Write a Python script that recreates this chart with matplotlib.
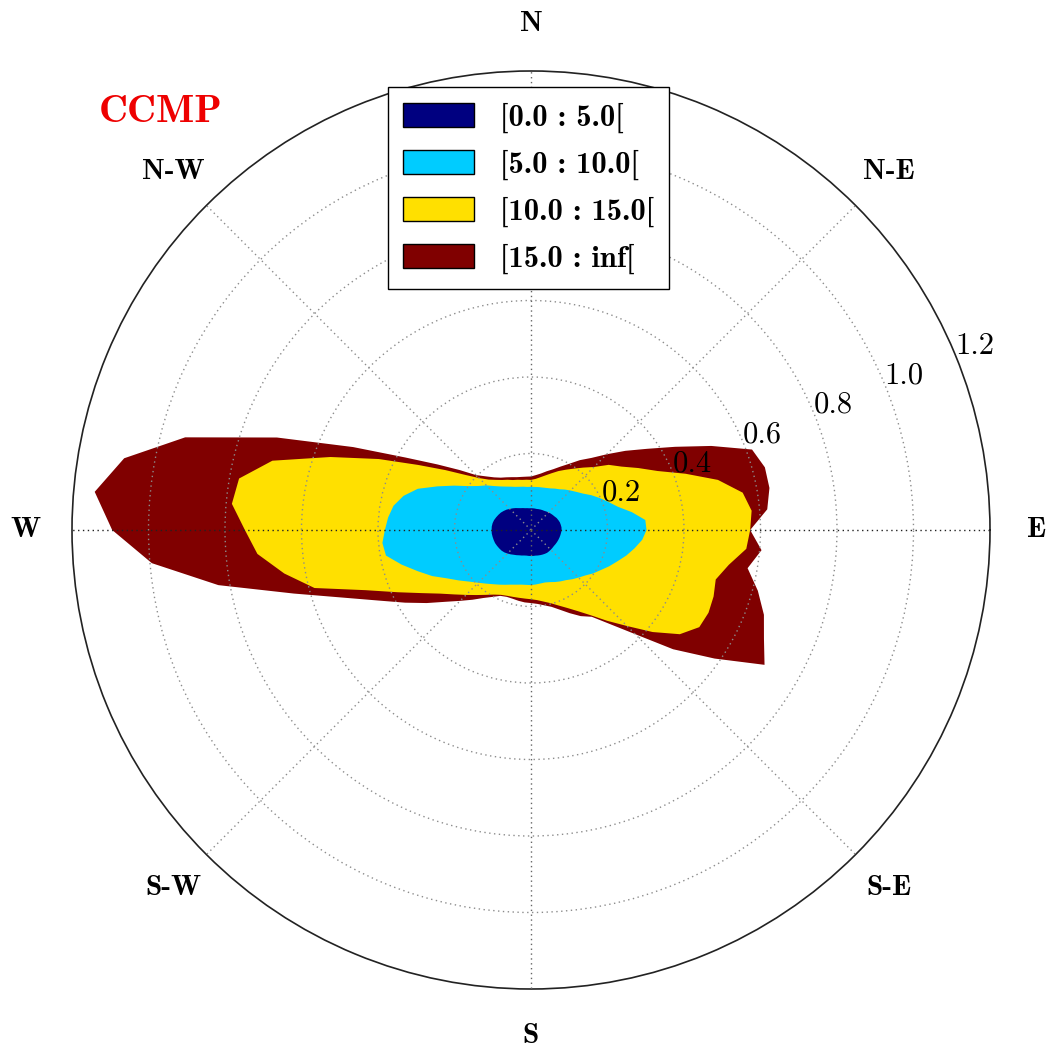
import numpy as np
import matplotlib
matplotlib.use("Agg")
import matplotlib.pyplot as plt
from matplotlib.patches import Patch

# ---- data (cumulative outline radius per direction, math convention: 0 = East, CCW) ----
directions_deg = np.arange(0, 360, 5)

r_0_5 = [0.080, 0.080, 0.079, 0.078, 0.076, 0.074, 0.071, 0.069, 0.067, 0.065, 0.063, 0.061, 0.060, 0.059, 0.058, 0.057, 0.057, 0.057,
         0.057, 0.057, 0.058, 0.059, 0.061, 0.063, 0.066, 0.070, 0.074, 0.078, 0.083, 0.087, 0.091, 0.094, 0.097, 0.100, 0.102, 0.103,
         0.103, 0.103, 0.102, 0.101, 0.100, 0.098, 0.096, 0.094, 0.091, 0.087, 0.083, 0.079, 0.076, 0.073, 0.071, 0.069, 0.068, 0.068,
         0.068, 0.068, 0.068, 0.069, 0.070, 0.071, 0.072, 0.073, 0.073, 0.073, 0.073, 0.073, 0.074, 0.075, 0.076, 0.077, 0.078, 0.079]

r_5_10 = [0.302, 0.300, 0.268, 0.235, 0.215, 0.198, 0.182, 0.166, 0.155, 0.146, 0.138, 0.130, 0.125, 0.120, 0.117, 0.115, 0.114, 0.113,
          0.113, 0.113, 0.115, 0.117, 0.120, 0.125, 0.131, 0.139, 0.150, 0.165, 0.179, 0.200, 0.232, 0.270, 0.315, 0.345, 0.365, 0.375,
          0.382, 0.390, 0.385, 0.350, 0.315, 0.285, 0.253, 0.230, 0.210, 0.195, 0.183, 0.173, 0.165, 0.158, 0.152, 0.148, 0.145, 0.144,
          0.144, 0.143, 0.142, 0.142, 0.145, 0.150, 0.155, 0.160, 0.168, 0.176, 0.185, 0.198, 0.210, 0.225, 0.240, 0.258, 0.275, 0.292]

r_10_15 = [0.573, 0.579, 0.562, 0.506, 0.430, 0.365, 0.324, 0.289, 0.265, 0.233, 0.213, 0.196, 0.182, 0.170, 0.158, 0.148, 0.140, 0.134,
           0.131, 0.132, 0.133, 0.136, 0.139, 0.145, 0.151, 0.160, 0.172, 0.192, 0.224, 0.273, 0.340, 0.439, 0.558, 0.700, 0.775, 0.785,
           0.748, 0.718, 0.655, 0.586, 0.460, 0.385, 0.330, 0.290, 0.262, 0.240, 0.222, 0.207, 0.195, 0.187, 0.183, 0.181, 0.180, 0.180,
           0.181, 0.184, 0.190, 0.198, 0.210, 0.225, 0.245, 0.272, 0.310, 0.355, 0.415, 0.475, 0.508, 0.512, 0.508, 0.500, 0.525, 0.565]

r_15_inf = [0.573, 0.620, 0.633, 0.633, 0.615, 0.520, 0.435, 0.370, 0.322, 0.280, 0.246, 0.223, 0.200, 0.183, 0.169, 0.159, 0.150, 0.144,
            0.140, 0.140, 0.141, 0.143, 0.147, 0.152, 0.158, 0.168, 0.183, 0.203, 0.244, 0.299, 0.379, 0.513, 0.707, 0.936, 1.080, 1.145,
            1.095, 0.995, 0.830, 0.642, 0.518, 0.437, 0.380, 0.333, 0.292, 0.262, 0.238, 0.217, 0.202, 0.190, 0.186, 0.186, 0.188, 0.190,
            0.191, 0.194, 0.200, 0.208, 0.222, 0.240, 0.260, 0.277, 0.321, 0.385, 0.485, 0.586, 0.705, 0.672, 0.648, 0.614, 0.575, 0.605]

class_labels = ["[0.0 : 5.0[", "[5.0 : 10.0[", "[10.0 : 15.0[", "[15.0 : inf["]
class_colors = ["#000080", "#00CCFF", "#FFE000", "#800000"]

ring_ticks = [0.2, 0.4, 0.6, 0.8, 1.0]
ring_labels = ["0.2", "0.4", "0.6", "0.8", "1.0", "1.2"]
ring_label_values = [0.2, 0.4, 0.6, 0.8, 1.0, 1.2]
r_max = 1.2

compass_labels = ["E", "N-E", "N", "N-W", "W", "S-W", "S", "S-E"]
compass_angles = [0, 45, 90, 135, 180, 225, 270, 315]

title_text = "CCMP"

# ---- fonts ----
BOLD = ["cmb10", "DejaVu Serif"]
REG = ["cmr10", "DejaVu Serif"]

fig = plt.figure(figsize=(10.49, 10.50), dpi=100)
ax = fig.add_axes([72 / 1049, (1050 - 530 - 459) / 1050, 918 / 1049, 918 / 1050], projection="polar")

theta = np.deg2rad(np.append(directions_deg, directions_deg[0]))
layers = [r_0_5, r_5_10, r_10_15, r_15_inf]
for i in range(3, -1, -1):
    r = np.asarray(layers[i])
    r = np.append(r, r[0])
    ax.fill(theta, r, color=class_colors[i], lw=0, zorder=1 + (3 - i) * 0.1)

ax.set_ylim(0, r_max)
ax.set_yticks(ring_ticks)
ax.set_yticklabels([])
ax.set_thetagrids([45, 135, 225, 315], labels=[""] * 4)
ax.set_axisbelow(False)
ax.grid(True, color="#8c8c8c", linestyle=(0, (1, 2.5)), linewidth=1.0, zorder=3)
ax.xaxis.grid(True, color="#8c8c8c", linestyle=(0, (1, 2.5)), linewidth=1.0)
for a in [0, 180]:
    ax.plot([np.deg2rad(a), np.deg2rad(a)], [0, r_max], color="#222222",
            linestyle=(0, (1, 2.5)), linewidth=1.0, zorder=3)
for a in [90, 270]:
    ax.plot([np.deg2rad(a), np.deg2rad(a)], [0, r_max], color="#666666",
            linestyle=(0, (1, 2.5)), linewidth=1.0, zorder=3)
ax.spines["polar"].set_linewidth(1.2)
ax.spines["polar"].set_color("#222222")
ax.tick_params(axis="both", length=0)

# ring labels (left/baseline at the ring point along 22.5 deg)
for v, s in zip(ring_label_values, ring_labels):
    ax.text(np.deg2rad(22.5), v, s, ha="left", va="baseline", fontsize=22,
            family=REG, color="black", zorder=5)

# compass labels
for a, s in zip(compass_angles, compass_labels):
    ax.text(np.deg2rad(a), 1.322, s, ha="center", va="center", fontsize=21,
            family=BOLD, color="black", clip_on=False)

# title
fig.text(161 / 1049, 1 - 113 / 1050, title_text, color="#ee0000", fontsize=29,
         family=BOLD, ha="center", va="center")

# legend
handles = [Patch(facecolor=c, edgecolor="black", linewidth=1.0) for c in class_colors]
leg = fig.legend(handles, class_labels, loc="upper left",
                 bbox_to_anchor=(388 / 1049, 1 - 87 / 1050), borderaxespad=0,
                 prop={"family": BOLD, "size": 22}, frameon=True, fancybox=False,
                 edgecolor="black", framealpha=1.0, handlelength=2.31, handleheight=0.82,
                 handletextpad=0.84, borderpad=0.5, labelspacing=0.55)
leg.get_frame().set_linewidth(1.0)

fig.savefig("out.png", dpi=100, facecolor="white")
